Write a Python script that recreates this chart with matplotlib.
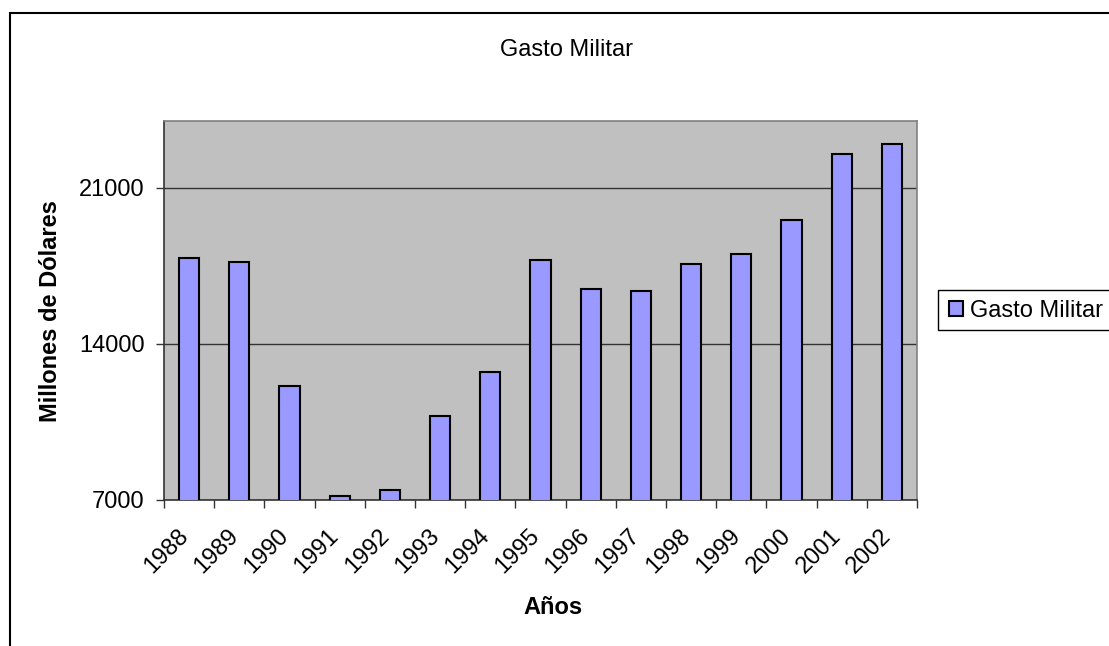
import matplotlib
matplotlib.use("Agg")
import matplotlib.pyplot as plt
from matplotlib.patches import Rectangle
from matplotlib.transforms import ScaledTranslation
import numpy as np

years = ["1988", "1989", "1990", "1991", "1992", "1993", "1994", "1995",
         "1996", "1997", "1998", "1999", "2000", "2001", "2002"]
gasto = [17870, 17680, 12130, 7180, 7435, 10760, 12730, 17770,
         16470, 16380, 17590, 18025, 19560, 22540, 22990]
yticks = [7000, 14000, 21000]
series_name = "Gasto Militar"

plt.rcParams['font.family'] = ['Liberation Sans', 'DejaVu Sans']
FS = 17

W, H = 1109, 646
fig = plt.figure(figsize=(W / 100, H / 100), dpi=100)
fig.patch.set_facecolor("white")

# outer chart border
fig.patches.append(Rectangle((10 / W, -0.1), 1.2, (H - 13) / H + 0.1,
                             transform=fig.transFigure, fill=False,
                             edgecolor="black", linewidth=1.5, zorder=0))

ax = fig.add_axes([164 / W, (H - 500) / H, (917 - 164) / W, (500 - 121) / H])
ax.set_facecolor("#c0c0c0")

x = np.arange(len(years))
ax.bar(x, gasto, width=0.4, color="#9999ff", edgecolor="black",
       linewidth=1.5, zorder=3, label=series_name)

ax.set_xlim(-0.5, len(years) - 0.5)
ax.set_ylim(7000, 24000)
ax.set_yticks(yticks)
ax.set_yticklabels([str(v) for v in yticks], fontsize=FS)
ax.yaxis.grid(True, color="#333333", linewidth=1, zorder=1)

ax.set_xticks(x)
ax.set_xticklabels(years, rotation=45, ha="right", rotation_mode="anchor",
                   fontsize=FS)
ax.tick_params(axis="x", length=0, pad=18)
shift = ScaledTranslation(-12 / 100, 0, fig.dpi_scale_trans)
for lbl in ax.get_xticklabels():
    lbl.set_transform(lbl.get_transform() + shift)
ax.set_xticks(np.arange(-0.5, len(years)), minor=True)
ax.tick_params(axis="x", which="minor", length=6, direction="out",
               color="#333333", width=1)
ax.tick_params(axis="y", length=6, direction="out", color="#333333", width=1,
               pad=8)

for side in ["top", "right"]:
    ax.spines[side].set_color("#808080")
    ax.spines[side].set_linewidth(1.2)
for side in ["left", "bottom"]:
    ax.spines[side].set_color("#333333")
    ax.spines[side].set_linewidth(1.2)

fig.text(51 / W, 1 - 311 / H, "Millones de Dólares", rotation=90,
         ha="center", va="center", fontsize=FS, fontweight="bold")
fig.text(553 / W, 1 - 608 / H, "Años", ha="center", va="center",
         fontsize=FS, fontweight="bold")
fig.text(567 / W, 1 - 50 / H, "Gasto Militar", ha="center", va="center",
         fontsize=FS)

# legend frame (extends past the right edge like the reference)
fig.patches.append(Rectangle((938 / W, 1 - 330 / H), 0.3, 40 / H,
                             transform=fig.transFigure, fill=True,
                             facecolor="white", edgecolor="black",
                             linewidth=1, zorder=1))
leg = fig.legend(loc="center left", bbox_to_anchor=(942 / W, 1 - 311 / H),
                 fontsize=FS, frameon=False,
                 handlelength=0.6, handleheight=0.6, handletextpad=0.3,
                 borderpad=0.3, borderaxespad=0)
leg.set_zorder(5)

fig.savefig("out.png", dpi=100)
